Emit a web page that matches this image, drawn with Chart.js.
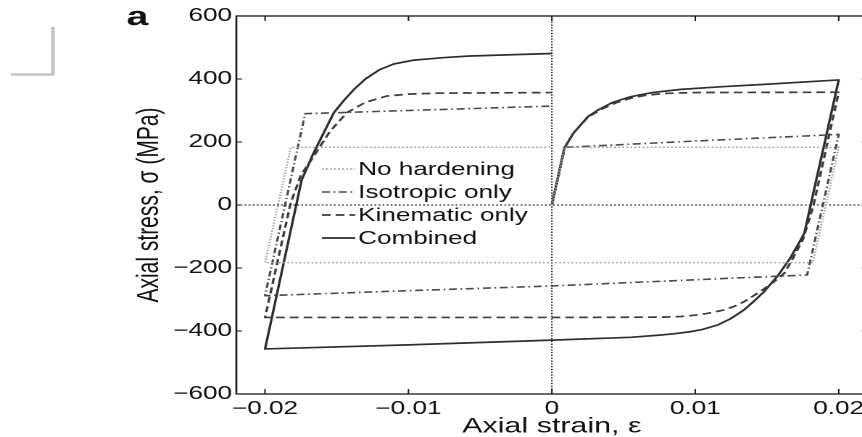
<!DOCTYPE html>
<html><head><meta charset="utf-8">
<script src="https://cdn.jsdelivr.net/npm/chart.js@4.4.1/dist/chart.umd.min.js"></script>
<style>
html,body{margin:0;padding:0;background:#fff;overflow:hidden;width:862px;height:437px;}
#wrap{position:absolute;left:0;top:0;width:600px;height:437px;transform:scaleX(1.45);transform-origin:0 0;}
</style></head><body>
<div id="wrap"><canvas id="c" width="600" height="437"></canvas></div>
<script>
// ---- data ----
const xTicks = [-0.02, -0.01, 0, 0.01, 0.02];
const yTicks = [-600, -400, -200, 0, 200, 400, 600];
const seriesNames = ['No hardening', 'Isotropic only', 'Kinematic only', 'Combined'];

const noHardStrain = [0, 0.0009, 0.02, 0.0182, -0.02, -0.0182, 0];
const noHardStress = [0, 183, 183, -183, -183, 183, 183];

const isoStrain = [0, 0.0009, 0.01, 0.02, 0.0178, 0, -0.01, -0.02, -0.0172, -0.01, 0];
const isoStress = [0, 183, 203, 224, -222, -257, -272, -288, 290, 300, 314];

const kinStrain = [0, 0.0009, 0.0015, 0.0025, 0.0035, 0.0045, 0.0055, 0.0065, 0.0078, 0.01, 0.02,
  0.01822, 0.0175, 0.0168, 0.0162, 0.0155, 0.0148, 0.0141, 0.0134, 0.0127, 0.012, 0.0111, 0.0102, 0.009, 0.0078, 0, -0.02,
  -0.01822, -0.0175, -0.0166, -0.0155, -0.0143, -0.013, -0.0115, -0.01, -0.008, 0];
const kinStress = [0, 183, 228, 278, 305, 325, 339, 348, 354, 357, 358,
  -5, -110, -170, -217, -243, -266, -287, -307, -322, -333, -342, -349, -354, -356, -357, -357,
  5, 95, 155, 232, 293, 326, 346, 352, 355, 357];

const combStrain = [0, 0.00086, 0.0015, 0.0025, 0.0032, 0.0042, 0.0055, 0.007, 0.009, 0.012, 0.0148, 0.02,
  0.0176, 0.01735, 0.0166, 0.0158, 0.0148, 0.0141, 0.0134, 0.0125, 0.01155, 0.0105, 0.0097, 0.0085, 0.0075, 0.0055, 0, -0.01, -0.02,
  -0.01745, -0.017, -0.01666, -0.0159, -0.0152, -0.0145, -0.0138, -0.013, -0.012, -0.011, -0.0096, -0.0075, -0.0057, 0];
const combStress = [0, 180, 228, 280, 301, 325, 344, 357, 367, 376, 383, 397,
  -90, -111, -170, -222, -275, -305, -333, -360, -381, -395, -402, -409, -413, -420, -429, -444, -457,
  79, 125, 161, 230, 293, 332, 367, 400, 430, 448, 460, 468, 473, 481];

// ---- helpers ----
const FONT = '"Liberation Sans", Arial, Helvetica, sans-serif';
const pts = (xs, ys) => xs.map((x, i) => ({x: x, y: ys[i]}));
const fmtX = v => v === 0 ? '0' : (v < 0 ? '\u2212' : '') + Math.abs(v).toFixed(2);
const fmtY = v => (v < 0 ? '\u2212' : '') + Math.abs(v);

const styles = [
  {color: '#9c9c9c', width: 1.4, dash: [1.2, 1.6]},
  {color: '#4a4a4a', width: 1.6, dash: [5.5, 2.5, 1.2, 2.5]},
  {color: '#3c3c3c', width: 1.7, dash: [6, 3.5]},
  {color: '#2e2e2e', width: 1.7, dash: []}
];
const seriesData = [pts(noHardStrain, noHardStress), pts(isoStrain, isoStress), pts(kinStrain, kinStress), pts(combStrain, combStress)];

const datasets = seriesNames.map((n, i) => ({
  label: n, data: seriesData[i], showLine: true, fill: false,
  borderColor: styles[i].color, borderWidth: styles[i].width, borderDash: styles[i].dash,
  borderJoinStyle: 'round',
  pointRadius: 0, pointHoverRadius: 0, tension: 0
}));

// zero lines
const zeroLines = {
  id: 'zeroLines',
  beforeDatasetsDraw(chart) {
    const {ctx, chartArea: a, scales: {x, y}} = chart;
    const x0 = x.getPixelForValue(0), y0 = y.getPixelForValue(0);
    ctx.save();
    ctx.strokeStyle = '#000'; ctx.lineWidth = 1.1; ctx.setLineDash([1.3, 1.5]);
    ctx.beginPath(); ctx.moveTo(a.left, y0); ctx.lineTo(a.right, y0); ctx.stroke();
    ctx.lineWidth = 1;
    ctx.beginPath(); ctx.moveTo(x0, a.top); ctx.lineTo(x0, a.bottom); ctx.stroke();
    ctx.restore();
  }
};

// frame with inward ticks on all sides
const frame = {
  id: 'frame',
  afterDatasetsDraw(chart) {
    const {ctx, chartArea: a, scales: {x, y}} = chart;
    ctx.save();
    ctx.strokeStyle = '#1a1a1a'; ctx.lineWidth = 1.3; ctx.setLineDash([]);
    ctx.strokeRect(a.left, a.top, a.right - a.left, a.bottom - a.top);
    ctx.lineWidth = 1;
    ctx.beginPath();
    xTicks.forEach(v => {
      const px = x.getPixelForValue(v);
      ctx.moveTo(px, a.bottom); ctx.lineTo(px, a.bottom - 5);
      ctx.moveTo(px, a.top); ctx.lineTo(px, a.top + 5);
    });
    yTicks.forEach(v => {
      const py = y.getPixelForValue(v);
      ctx.moveTo(a.left, py); ctx.lineTo(a.left + 4, py);
      ctx.moveTo(a.right, py); ctx.lineTo(a.right - 4, py);
    });
    ctx.stroke();
    ctx.restore();
  }
};

// legend inside the plot (no box)
const inLegend = {
  id: 'inLegend',
  afterDatasetsDraw(chart) {
    const {ctx} = chart;
    const x1 = 222, x2 = 245, tx = 247, y0 = 169, dy = 23;
    ctx.save();
    chart.data.datasets.forEach((d, i) => {
      const yy = y0 + i * dy;
      ctx.strokeStyle = d.borderColor; ctx.lineWidth = d.borderWidth;
      ctx.setLineDash(d.borderDash);
      ctx.beginPath(); ctx.moveTo(x1, yy); ctx.lineTo(x2, yy); ctx.stroke();
      ctx.setLineDash([]);
      ctx.fillStyle = '#111'; ctx.font = '18px ' + FONT;
      ctx.textAlign = 'left'; ctx.textBaseline = 'middle';
      ctx.fillText(d.label, tx, yy + 1);
    });
    ctx.restore();
  }
};

// panel letter and corner mark
const decor = {
  id: 'decor',
  afterDraw(chart) {
    const {ctx} = chart;
    ctx.save();
    ctx.fillStyle = '#111'; ctx.font = 'bold 27px ' + FONT;
    ctx.textAlign = 'center'; ctx.textBaseline = 'alphabetic';
    ctx.fillText('a', 94.8, 25);
    ctx.strokeStyle = '#c4c4c4'; ctx.lineWidth = 2.5;
    ctx.beginPath();
    ctx.moveTo(36.5, 27); ctx.lineTo(36.5, 74.5); ctx.lineTo(7.6, 74.5);
    ctx.stroke();
    ctx.restore();
  }
};

new Chart(document.getElementById('c'), {
  type: 'scatter',
  data: {datasets: datasets},
  options: {
    responsive: false, animation: false, devicePixelRatio: 2,
    layout: {padding: {left: 0, right: 1.6, top: 16, bottom: 0}},
    plugins: {legend: {display: false}, tooltip: {enabled: false}},
    scales: {
      x: {
        type: 'linear', position: 'bottom', min: -0.022, max: 0.022,
        grid: {display: false, drawTicks: false}, border: {display: false},
        afterBuildTicks: s => { s.ticks = xTicks.map(v => ({value: v})); },
        afterFit: s => { s.height = 43; },
        ticks: {autoSkip: false, maxRotation: 0, padding: 4, color: '#111',
          font: {family: FONT, size: 18}, callback: v => fmtX(v)},
        title: {display: true, text: 'Axial strain, \u03b5', color: '#111',
          font: {family: FONT, size: 21, lineHeight: 1}, padding: {top: 0, bottom: 0}}
      },
      y: {
        type: 'linear', position: 'left', min: -600, max: 600,
        grid: {display: false, drawTicks: false}, border: {display: false},
        afterBuildTicks: s => { s.ticks = yTicks.map(v => ({value: v})); },
        afterFit: s => { s.width = 163; },
        ticks: {autoSkip: false, padding: 3, color: '#111',
          font: {family: FONT, size: 18}, callback: v => fmtY(v)},
        title: {display: true, text: 'Axial stress, \u03c3 (MPa)', color: '#111',
          font: {family: FONT, size: 21, lineHeight: 1}, padding: {top: 92.9, bottom: 0}}
      }
    }
  },
  plugins: [zeroLines, frame, inLegend, decor]
});
</script>
</body></html>
